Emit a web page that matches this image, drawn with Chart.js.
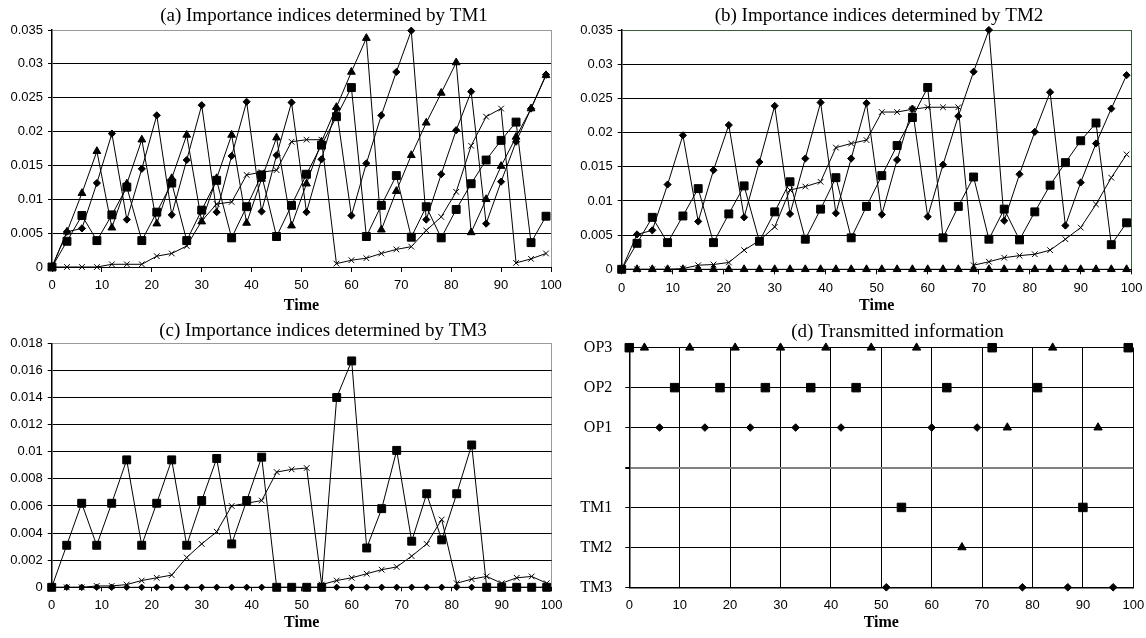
<!DOCTYPE html>
<html>
<head>
<meta charset="utf-8">
<script src="https://cdn.jsdelivr.net/npm/chart.js@4.4.1/dist/chart.umd.min.js"></script>
<style>
  html, body { margin: 0; padding: 0; background: #fff; overflow: hidden; }
  body { width: 1146px; height: 638px; position: relative; }
  canvas { position: absolute; }
</style>
</head>
<body>
<canvas id="chartA" width="648" height="318" style="left:0px;top:0px"></canvas>
<canvas id="chartB" width="618" height="318" style="left:570px;top:0px"></canvas>
<canvas id="chartC" width="646" height="324" style="left:0px;top:314px"></canvas>
<canvas id="chartD" width="655" height="324" style="left:570px;top:314px"></canvas>
<script>
// time steps (every 3 units)
var times = [0,3,6,9,12,15,18,21,24,27,30,33,36,39,42,45,48,51,54,57,60,63,66,69,72,75,78,81,84,87,90,93,96,99];

// (a) importance indices determined by TM1
var tm1Diamond = [0,0.0052,0.0057,0.0124,0.0197,0.0070,0.0145,0.0224,0.0077,0.0158,
  0.0239,0.0081,0.0164,0.0244,0.0082,0.0165,0.0243,0.0081,0.0159,0.0234,
  0.0076,0.0153,0.0224,0.0288,0.0349,0.0070,0.0137,0.0202,0.0259,0.0064,
  0.0126,0.0185,0.0234,0.0284];
var tm1Square = [0,0.0038,0.0076,0.0039,0.0077,0.0118,0.0039,0.0081,0.0124,0.0039,
  0.0084,0.0128,0.0043,0.0089,0.0136,0.0045,0.0091,0.0137,0.0180,0.0222,
  0.0265,0.0045,0.0091,0.0135,0.0044,0.0089,0.0043,0.0085,0.0123,0.0158,
  0.0187,0.0214,0.0036,0.0075];
var tm1Triangle = [0,0.0052,0.0109,0.0171,0.0058,0.0123,0.0188,0.0064,0.0131,0.0195,
  0.0067,0.0131,0.0195,0.0065,0.0130,0.0191,0.0061,0.0123,0.0185,0.0236,
  0.0288,0.0338,0.0055,0.0112,0.0165,0.0213,0.0257,0.0302,0.0051,0.0100,
  0.0149,0.0192,0.0234,0.0283];
var tm1Cross = [0,0,0,0,0.0004,0.0004,0.0004,0.0016,0.0020,0.0031,
  0.0068,0.0093,0.0096,0.0136,0.0140,0.0143,0.0185,0.0188,0.0188,0.0005,
  0.0010,0.0013,0.0020,0.0026,0.0030,0.0054,0.0074,0.0111,0.0179,0.0222,
  0.0234,0.0006,0.0012,0.0020];

// (b) importance indices determined by TM2
var tm2Diamond = [0,0.0051,0.0057,0.0124,0.0196,0.0070,0.0145,0.0211,0.0076,0.0157,
  0.0239,0.0081,0.0162,0.0244,0.0082,0.0162,0.0243,0.0080,0.0160,0.0235,
  0.0077,0.0153,0.0224,0.0289,0.0350,0.0071,0.0139,0.0201,0.0259,0.0064,
  0.0127,0.0184,0.0235,0.0284];
var tm2Square = [0,0.0038,0.0076,0.0039,0.0078,0.0118,0.0039,0.0081,0.0122,0.0041,
  0.0084,0.0128,0.0044,0.0088,0.0134,0.0046,0.0092,0.0137,0.0181,0.0222,
  0.0266,0.0046,0.0092,0.0135,0.0044,0.0088,0.0043,0.0084,0.0123,0.0156,
  0.0188,0.0214,0.0036,0.0068];
var tm2Triangle = [0,0,0,0,0,0,0,0,0,0,0,0,0,0,0,0,0,0,0,0,0,0,0,0,0,0,0,0,0,0,0,0,0,0];
var tm2Cross = [0,0,0,0,0.0001,0.0006,0.0007,0.0010,0.0028,0.0042,
  0.0062,0.0116,0.0121,0.0128,0.0178,0.0184,0.0189,0.0230,0.0230,0.0234,
  0.0237,0.0237,0.0237,0.0006,0.0011,0.0017,0.0020,0.0022,0.0028,0.0044,
  0.0061,0.0095,0.0134,0.0168];

// (c) importance indices determined by TM3
var tm3Diamond = [0,0,0,0,0,0,0,0,0,0,0,0,0,0,0,0,0,0,0,0,0,0,0,0,0,0,0,0,0,0,0,0,0,0];
var tm3Square = [0,0.0031,0.0062,0.0031,0.0062,0.0094,0.0031,0.0062,0.0094,0.0031,
  0.0064,0.0095,0.0032,0.0064,0.0096,0,0,0,0,0.0140,
  0.0167,0.0029,0.0058,0.0101,0.0034,0.0069,0.0035,0.0069,0.0105,0,
  0,0,0,0];
var tm3Cross = [0,0,0,0.0001,0.0001,0.0002,0.0005,0.0007,0.0009,0.0022,
  0.0032,0.0041,0.0060,0.0062,0.0064,0.0085,0.0087,0.0088,0.0002,0.0005,
  0.0007,0.0010,0.0013,0.0015,0.0023,0.0032,0.0050,0.0003,0.0006,0.0008,
  0.0003,0.0007,0.0008,0.0003];

// (d) transmitted information: times at which each marker appears on each row
var rowLabels = ['TM3','TM2','TM1','','OP1','OP2','OP3'];
var op3Squares = [0,72,99];
var op3Triangles = [3,12,21,30,39,48,57,84];
var op2Squares = [9,18,27,36,45,63,81];
var op1Diamonds = [6,15,24,33,42,60,69];
var op1Triangles = [75,93];
var tm1Squares = [54,90];
var tm2Triangles = [66];
var tm3Diamonds = [51,78,87,96];

// tick labels
var xLabels = ['0','10','20','30','40','50','60','70','80','90','100'];
var yLabelsAB = ['0','0.005','0.01','0.015','0.02','0.025','0.03','0.035'];
var yLabelsC = ['0','0.002','0.004','0.006','0.008','0.01','0.012','0.014','0.016','0.018'];

var sansFont = "'Liberation Sans', Arial, sans-serif";
var serifFont = "'Liberation Serif', 'Times New Roman', serif";

function seriesPoints(vals) {
  return times.map(function (t, i) { return { x: t, y: vals[i] }; });
}

function lineSet(vals, style, r) {
  return {
    data: seriesPoints(vals),
    borderColor: '#000',
    borderWidth: 1,
    pointStyle: style,
    pointRadius: r,
    pointBackgroundColor: '#000',
    pointBorderColor: '#000',
    pointBorderWidth: 1,
    tension: 0,
    fill: false,
    clip: false
  };
}

function rowSet(ts, row, style, r) {
  return {
    data: ts.map(function (t) { return { x: t, y: row }; }),
    showLine: false,
    pointStyle: style,
    pointRadius: r,
    pointBackgroundColor: '#000',
    pointBorderColor: '#000',
    pointBorderWidth: 1,
    clip: false
  };
}

// empty right-hand axis, only used to keep space right of the plot
// so the title stays centred on the whole canvas
function spacerAxis(w) {
  return {
    position: 'right',
    display: true,
    afterFit: function (s) { s.width = w; s.paddingTop = 0; s.paddingBottom = 0; },
    ticks: { display: false },
    grid: { display: false, drawTicks: false },
    border: { display: false }
  };
}

function indexChart(id, title, sets, yMax, yStep, yLabels, edge, box) {
  new Chart(document.getElementById(id), {
    type: 'line',
    data: { datasets: sets },
    options: {
      responsive: false,
      animation: false,
      layout: { padding: 0 },
      plugins: {
        legend: { display: false },
        tooltip: { enabled: false },
        title: {
          display: true,
          text: title,
          color: '#000',
          font: { family: serifFont, size: 19, weight: 'normal' },
          padding: { top: box.titleTop, bottom: box.titleBottom }
        }
      },
      scales: {
        x: {
          type: 'linear',
          min: 0, max: 100,
          afterFit: function (s) { s.height = box.xHeight; s.paddingLeft = 0; s.paddingRight = 0; },
          ticks: {
            stepSize: 10, color: '#000', padding: 6,
            font: { family: sansFont, size: 13 },
            callback: function (v, i) { return xLabels[i]; }
          },
          grid: {
            color: function (c) { return c.tick && c.tick.value === 100 ? edge : 'rgba(0,0,0,0)'; },
            tickColor: '#000',
            tickLength: box.tickLen
          },
          border: { color: '#000', width: 1 },
          title: {
            display: true, text: 'Time', color: '#000',
            font: { family: serifFont, size: 16, weight: 'bold' },
            padding: { top: 0, bottom: box.timeBottom }
          }
        },
        y: {
          min: 0, max: yMax,
          afterFit: function (s) { s.width = box.yWidth; s.paddingTop = 0; s.paddingBottom = 0; },
          ticks: {
            stepSize: yStep, color: '#000', padding: 5,
            font: { family: sansFont, size: 13 },
            callback: function (v, i) { return yLabels[i]; }
          },
          grid: {
            color: function (c) { return c.index === yLabels.length - 1 ? edge : '#000'; },
            tickColor: '#000',
            tickLength: 4
          },
          border: { color: '#000', width: 1.5 }
        },
        pad: spacerAxis(box.right)
      }
    }
  });
}

indexChart('chartA', '(a) Importance indices determined by TM1', [
  lineSet(tm1Cross, 'crossRot', 4),
  lineSet(tm1Triangle, 'triangle', 4.5),
  lineSet(tm1Square, 'rect', 5.6),
  lineSet(tm1Diamond, 'rectRot', 3.6)
], 0.035, 0.005, yLabelsAB, '#9a9a9a',
  { yWidth: 52, right: 97, titleTop: 4.6, titleBottom: 2.6, xHeight: 51, timeBottom: 2.7, tickLen: 5 });

indexChart('chartB', '(b) Importance indices determined by TM2', [
  lineSet(tm2Cross, 'crossRot', 4),
  lineSet(tm2Triangle, 'triangle', 4.5),
  lineSet(tm2Square, 'rect', 5.6),
  lineSet(tm2Diamond, 'rectRot', 3.6)
], 0.035, 0.005, yLabelsAB, '#3d5e3a',
  { yWidth: 51.7, right: 56.3, titleTop: 4.6, titleBottom: 2.6, xHeight: 48.7, timeBottom: 2.7, tickLen: 5 });

indexChart('chartC', '(c) Importance indices determined by TM3', [
  lineSet(tm3Cross, 'crossRot', 4),
  lineSet(tm3Diamond, 'rectRot', 3.2),
  lineSet(tm3Square, 'rect', 5.6)
], 0.018, 0.002, yLabelsC, '#9a9a9a',
  { yWidth: 51.7, right: 94.3, titleTop: 5.6, titleBottom: 0.9, xHeight: 50.7, timeBottom: 5.9, tickLen: 4 });

// (d) transmitted information
new Chart(document.getElementById('chartD'), {
  type: 'scatter',
  data: {
    datasets: [
      rowSet(op3Squares, 6, 'rect', 6),
      rowSet(op3Triangles, 6, 'triangle', 4.8),
      rowSet(op2Squares, 5, 'rect', 6),
      rowSet(op1Diamonds, 4, 'rectRot', 3.8),
      rowSet(op1Triangles, 4, 'triangle', 4.8),
      rowSet(tm1Squares, 2, 'rect', 6),
      rowSet(tm2Triangles, 1, 'triangle', 4.8),
      rowSet(tm3Diamonds, 0, 'rectRot', 3.8)
    ]
  },
  options: {
    responsive: false,
    animation: false,
    layout: { padding: 0 },
    plugins: {
      legend: { display: false },
      tooltip: { enabled: false },
      title: {
        display: true,
        text: '(d) Transmitted information',
        color: '#000',
        font: { family: serifFont, size: 19, weight: 'normal' },
        padding: { top: 6.6, bottom: 4.3 }
      }
    },
    scales: {
      x: {
        type: 'linear',
        min: 0, max: 100,
        afterFit: function (s) { s.height = 50.7; s.paddingLeft = 0; s.paddingRight = 0; },
        ticks: {
          stepSize: 10, color: '#000', padding: 10,
          font: { family: sansFont, size: 13 },
          callback: function (v, i) { return xLabels[i]; }
        },
        grid: { color: '#000', lineWidth: 1, drawTicks: false },
        border: { color: '#000', width: 1.5 },
        title: {
          display: true, text: 'Time', color: '#000',
          font: { family: serifFont, size: 16, weight: 'bold' },
          padding: { top: 0, bottom: 5.9 }
        }
      },
      y: {
        min: 0, max: 6,
        afterFit: function (s) { s.width = 59.3; s.paddingTop = 0; s.paddingBottom = 0; },
        ticks: {
          stepSize: 1, color: '#000', padding: 13,
          font: { family: serifFont, size: 16 },
          callback: function (v, i) { return rowLabels[i]; }
        },
        grid: {
          color: function (c) { return c.index === 3 ? '#808080' : '#000'; },
          lineWidth: function (c) { return c.index === 3 ? 2 : 1; },
          tickColor: '#000',
          tickLength: 4
        },
        border: { color: '#000', width: 1.5 }
      },
      pad: spacerAxis(91.7)
    }
  }
});
</script>
</body>
</html>
